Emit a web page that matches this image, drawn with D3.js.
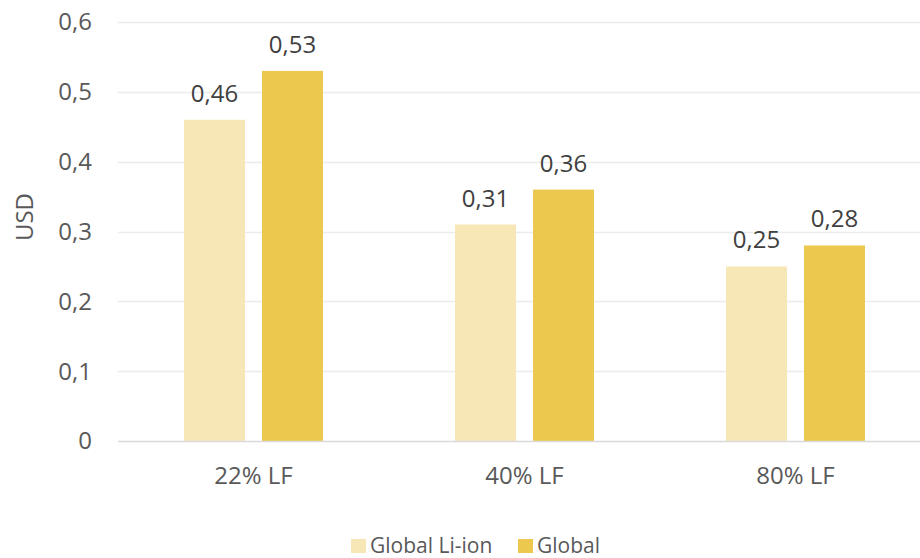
<!DOCTYPE html>
<html lang="en">
<head>
<meta charset="UTF-8">
<title>USD by LF</title>
<script src="https://d3js.org/d3.v7.min.js"></script>
<style>
  body { margin: 0; background: #fff; }
  text { font-family: "Open Sans", sans-serif; fill: #595959; }
</style>
</head>
<body>
<script>
var categories = ["22% LF", "40% LF", "80% LF"];
var seriesNames = ["Global Li-ion", "Global"];
var liIon = [0.46, 0.31, 0.25];
var global = [0.53, 0.36, 0.28];
var yTicks = [0, 0.1, 0.2, 0.3, 0.4, 0.5, 0.6];
var colors = ["#f8e7b6", "#edc84e"];

var width = 920, height = 558;
var plotLeft = 118, plotRight = 931, plotTop = 22, plotBottom = 441;
var fmt = function(v){ return String(v).replace(".", ","); };

var svg = d3.select("body").append("svg")
  .attr("width", width).attr("height", height);

var x = d3.scaleBand().domain(categories).range([plotLeft, plotRight]).paddingInner(0).paddingOuter(0);
var xs = d3.scaleBand().domain(seriesNames).range([0, x.bandwidth()]).paddingInner(0.218).paddingOuter(0.846);
var y = d3.scaleLinear().domain([0, 0.6]).range([plotBottom, plotTop]);

// gridlines
svg.append("g").selectAll("line").data(yTicks.slice(1)).enter().append("line")
  .attr("x1", plotLeft).attr("x2", width)
  .attr("y1", function(d){ return Math.round(y(d)) + 0.5; })
  .attr("y2", function(d){ return Math.round(y(d)) + 0.5; })
  .attr("stroke", "#ececec").attr("stroke-width", 1.3);

// y tick labels
svg.append("g").selectAll("text").data(yTicks).enter().append("text")
  .attr("x", 92).attr("y", function(d){ return y(d); })
  .attr("dy", "0.35em").attr("text-anchor", "end")
  .style("font-size", "24px")
  .text(fmt);

// axis title
svg.append("text")
  .attr("transform", "translate(33,217) rotate(-90)")
  .attr("text-anchor", "middle").style("font-size", "24px")
  .text("USD");

var data = [];
categories.forEach(function(c, i){
  data.push({cat: c, s: seriesNames[0], v: liIon[i], col: colors[0]});
  data.push({cat: c, s: seriesNames[1], v: global[i], col: colors[1]});
});

svg.append("g").selectAll("rect").data(data).enter().append("rect")
  .attr("x", function(d){ return x(d.cat) + xs(d.s); })
  .attr("width", xs.bandwidth())
  .attr("y", function(d){ return y(d.v); })
  .attr("height", function(d){ return plotBottom - y(d.v); })
  .attr("fill", function(d){ return d.col; });

svg.append("g").selectAll("text").data(data).enter().append("text")
  .attr("x", function(d){ return x(d.cat) + xs(d.s) + xs.bandwidth() / 2; })
  .attr("y", function(d){ return y(d.v) - 18; })
  .attr("text-anchor", "middle").style("font-size", "24px")
  .style("fill", "#404040")
  .text(function(d){ return fmt(d.v); });

// baseline
svg.append("line")
  .attr("x1", plotLeft).attr("x2", width)
  .attr("y1", plotBottom + 0.5).attr("y2", plotBottom + 0.5)
  .attr("stroke", "#d9d9d9").attr("stroke-width", 1.5);

// category labels
svg.append("g").selectAll("text").data(categories).enter().append("text")
  .attr("x", function(d){ return x(d) + x.bandwidth() / 2; })
  .attr("y", 484).attr("text-anchor", "middle")
  .style("font-size", "24px")
  .text(function(d){ return d; });

// legend
var legend = svg.append("g");
var legX = [351, 518];
seriesNames.forEach(function(n, i){
  legend.append("rect").attr("x", legX[i]).attr("y", 539).attr("width", 15).attr("height", 14)
    .attr("fill", colors[i]);
  legend.append("text").attr("x", legX[i] + 19).attr("y", 553)
    .style("font-size", "21px").text(n);
});
</script>
</body>
</html>
